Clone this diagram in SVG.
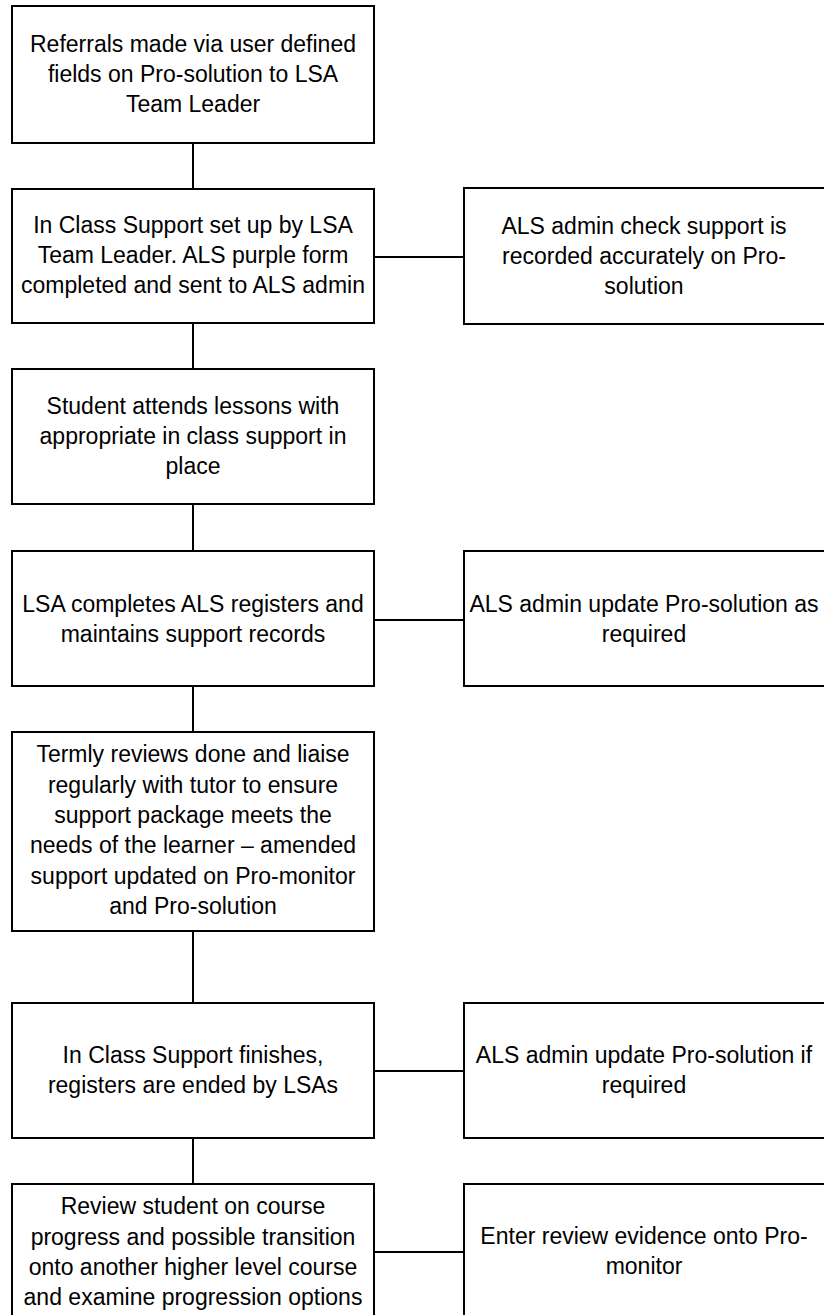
<svg xmlns="http://www.w3.org/2000/svg" width="824" height="1315" viewBox="0 0 824 1315">
<style>
.box{fill:#fff;stroke:#000;stroke-width:2}
.con{stroke:#000;stroke-width:2;fill:none}
text{font-family:"Liberation Sans",Arial,sans-serif;font-size:23px;fill:#000;text-anchor:middle}
</style>
<rect width="824" height="1315" fill="#fff"/>
<g id="connectors">
<line class="con" x1="193" y1="143" x2="193" y2="189"/>
<line class="con" x1="193" y1="323" x2="193" y2="369"/>
<line class="con" x1="193" y1="504" x2="193" y2="551"/>
<line class="con" x1="193" y1="686" x2="193" y2="732"/>
<line class="con" x1="193" y1="931" x2="193" y2="1003"/>
<line class="con" x1="193" y1="1138" x2="193" y2="1184"/>
<line class="con" x1="374" y1="257" x2="464" y2="257"/>
<line class="con" x1="374" y1="620" x2="464" y2="620"/>
<line class="con" x1="374" y1="1071" x2="464" y2="1071"/>
<line class="con" x1="374" y1="1252" x2="464" y2="1252"/>
</g>
<g id="n1">
<rect class="box" x="12" y="6" width="362" height="137"/>
<text x="193" y="52">Referrals made via user defined</text>
<text x="193" y="82">fields on Pro-solution to LSA</text>
<text x="193" y="112">Team Leader</text>
</g>
<g id="n2">
<rect class="box" x="12" y="189" width="362" height="134"/>
<text x="193" y="233">In Class Support set up by LSA</text>
<text x="193" y="263">Team Leader. ALS purple form</text>
<text x="193" y="293">completed and sent to ALS admin</text>
</g>
<g id="n2r">
<rect class="box" x="464" y="188" width="362" height="136"/>
<text x="644" y="234">ALS admin check support is</text>
<text x="644" y="264">recorded accurately on Pro-</text>
<text x="644" y="294">solution</text>
</g>
<g id="n3">
<rect class="box" x="12" y="369" width="362" height="135"/>
<text x="193" y="414">Student attends lessons with</text>
<text x="193" y="444">appropriate in class support in</text>
<text x="193" y="474">place</text>
</g>
<g id="n4">
<rect class="box" x="12" y="551" width="362" height="135"/>
<text x="193" y="612">LSA completes ALS registers and</text>
<text x="193" y="642">maintains support records</text>
</g>
<g id="n4r">
<rect class="box" x="464" y="551" width="362" height="135"/>
<text x="644" y="612">ALS admin update Pro-solution as</text>
<text x="644" y="642">required</text>
</g>
<g id="n5">
<rect class="box" x="12" y="732" width="362" height="199"/>
<text x="193" y="762">Termly reviews done and liaise</text>
<text x="193" y="793">regularly with tutor to ensure</text>
<text x="193" y="823">support package meets the</text>
<text x="193" y="853">needs of the learner – amended</text>
<text x="193" y="884">support updated on Pro-monitor</text>
<text x="193" y="914">and Pro-solution</text>
</g>
<g id="n6">
<rect class="box" x="12" y="1003" width="362" height="135"/>
<text x="193" y="1063">In Class Support finishes,</text>
<text x="193" y="1093">registers are ended by LSAs</text>
</g>
<g id="n6r">
<rect class="box" x="464" y="1003" width="362" height="135"/>
<text x="644" y="1063">ALS admin update Pro-solution if</text>
<text x="644" y="1093">required</text>
</g>
<g id="n7">
<rect class="box" x="12" y="1184" width="362" height="140"/>
<text x="193" y="1214">Review student on course</text>
<text x="193" y="1245">progress and possible transition</text>
<text x="193" y="1275">onto another higher level course</text>
<text x="193" y="1305">and examine progression options</text>
</g>
<g id="n7r">
<rect class="box" x="464" y="1184" width="362" height="140"/>
<text x="644" y="1244">Enter review evidence onto Pro-</text>
<text x="644" y="1274">monitor</text>
</g>
</svg>
